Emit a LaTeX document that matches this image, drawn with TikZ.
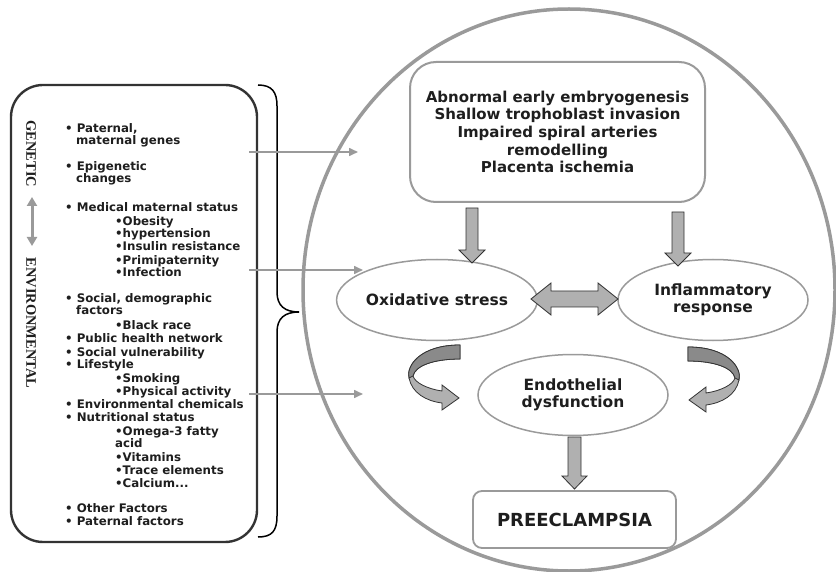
\documentclass[tikz,border=0pt]{standalone}
\usepackage{fontspec}
\setmainfont{DejaVu Sans}
\newfontfamily\vserif{Liberation Serif}
\usetikzlibrary{arrows.meta,shapes.geometric}
\definecolor{txt}{HTML}{1E1E1E}
\definecolor{lgray}{HTML}{9A9A9A}
\definecolor{bfill}{HTML}{B0B0B0}
\definecolor{dfill}{HTML}{8A8A8A}
\definecolor{bline}{HTML}{333333}
\begin{document}
\begin{tikzpicture}[x=1pt,y=-1pt,
  listtxt/.style={anchor=base west,inner sep=0pt,text=txt,font=\fontsize{11.8}{13}\selectfont\bfseries},
  ell/.style={ellipse,draw=lgray,line width=1.5pt,fill=white,inner sep=0pt,minimum width=190pt,minimum height=81pt,text=txt,align=center,font=\fontsize{15.5}{17}\selectfont\bfseries},
  blk/.style={draw=bline,line width=0.8pt,fill=bfill,line join=miter},
  thinarr/.style={draw=lgray,line width=1.6pt,-{Triangle[length=9pt,width=8pt]}},
  vlabel/.style={rotate=-90,inner sep=0pt,text=txt,font=\vserif\fontsize{14.5}{15}\selectfont\bfseries},
  curvearr/.pic={
    \path[blk] (0,0) .. controls (40,0) and (54,21) .. (51,33)
       .. controls (48,48) and (34,56) .. (18,58) -- (18,65) -- (1,53) -- (18,40) -- (18,46)
       .. controls (32,44) and (45,38) .. (47,31)
       .. controls (45,21) and (27,14) .. (0,14) -- cycle;
    \path[blk,fill=dfill] (0,0) .. controls (40,0) and (54,21) .. (51,33) -- (47,31)
       .. controls (45,21) and (27,14) .. (0,14) -- cycle;
  }]
\useasboundingbox (0,0) rectangle (836,572);
\fill[white] (0,0) rectangle (836,572);

% big ellipse
\node[ellipse,draw=lgray,line width=3.5pt,minimum width=532pt,minimum height=562pt,inner sep=0pt] (big) at (569,290) {};

% left box and brace
\draw[bline,line width=2.4pt,rounded corners=32pt] (11,85) rectangle (257,542);
\node[inner sep=0pt] (lbox) at (134,313.5) {};
\draw[black,line width=1.5pt] (258,85) .. controls (272,85) and (277,92) .. (277,106) -- (277,292)
  .. controls (277,306) and (285,312) .. (299,312) .. controls (285,312) and (277,318) .. (277,332)
  -- (277,516) .. controls (277,531) and (272,537) .. (258,537);

% vertical labels
\node[vlabel] (gen) at (31,154) {GENETIC};
\node[vlabel] (env) at (31,323) {ENVIRONMENTAL};
\coordinate (da1) at (32,197);
\coordinate (da2) at (32,246);
\draw[lgray,line width=3pt,{Triangle[length=9pt,width=10pt]}-{Triangle[length=9pt,width=10pt]}] (da1) -- (da2);

% list
\foreach \yy/\xx/\tt [count=\i] in {
  133/65/{• Paternal,}, 145/76/{maternal genes},
  171/65/{• Epigenetic}, 183/76/{changes},
  212/65/{• Medical maternal status},
  226/115/{•Obesity}, 238/115/{•hypertension}, 251/115/{•Insulin resistance},
  265/115/{•Primipaternity}, 277/115/{•Infection},
  303/65/{• Social, demographic}, 315/76/{factors},
  330/115/{•Black race},
  342/65/{• Public health network}, 356/65/{• Social vulnerability}, 368/65/{• Lifestyle},
  382/115/{•Smoking}, 395/115/{•Physical activity},
  408/65/{• Environmental chemicals}, 421/65/{• Nutritional status},
  435/115/{•Omega-3 fatty}, 447/115/{acid}, 461/115/{•Vitamins},
  474/115/{•Trace elements}, 487/115/{•Calcium...},
  512/65/{• Other Factors}, 525/65/{• Paternal factors}}
  \node[listtxt] (l\i) at (\xx,\yy) {\tt};

% top box
\node[draw=lgray,line width=2pt,rounded corners=26pt,minimum width=295pt,minimum height=140pt,inner sep=0pt,
  align=center,text=txt,font=\fontsize{15}{17.6}\selectfont\bfseries] (top) at (557.5,132)
  {Abnormal early embryogenesis\\Shallow trophoblast invasion\\Impaired spiral arteries\\remodelling\\Placenta ischemia};

% ellipses
\node[ell] (ox) at (437,300) {Oxidative stress};
\node[ell] (inf) at (713,300) {Inflammatory\\response};
\node[ell] (endo) at (573,395) {Endothelial\\dysfunction};

% preeclampsia
\node[draw=lgray,line width=1.8pt,rounded corners=9pt,minimum width=203pt,minimum height=57pt,inner sep=0pt,
  text=txt,font=\fontsize{18}{20}\selectfont\bfseries] (pre) at (574.5,519.5) {PREECLAMPSIA};

% thin gray arrows
\coordinate (s1) at (249,152); \coordinate (e1) at (358,152);
\coordinate (s2) at (249,270); \coordinate (e2) at (363,270);
\coordinate (s3) at (249,394); \coordinate (e3) at (363,394);
\draw[thinarr] (s1) -- (e1);
\draw[thinarr] (s2) -- (e2);
\draw[thinarr] (s3) -- (e3);

% block down arrows
\path[blk] (466,208) -- (478,208) -- (478,250) -- (485,250) -- (472,263) -- (459,250) -- (466,250) -- cycle;
\path[blk] (672,212) -- (684,212) -- (684,253) -- (691,253) -- (678,266) -- (665,253) -- (672,253) -- cycle;
\path[blk] (568,437) -- (581,437) -- (581,476) -- (587,476) -- (574.5,489) -- (562,476) -- (568,476) -- cycle;

% double arrow
\path[blk] (531,299) -- (551,283) -- (551,291) -- (598,291) -- (598,283) -- (618,299) -- (598,315) -- (598,307) -- (551,307) -- (551,315) -- cycle;

% curved arrows
\pic at (688,347) {curvearr};
\pic[xscale=-1] at (460,345) {curvearr};
\end{tikzpicture}
\end{document}
